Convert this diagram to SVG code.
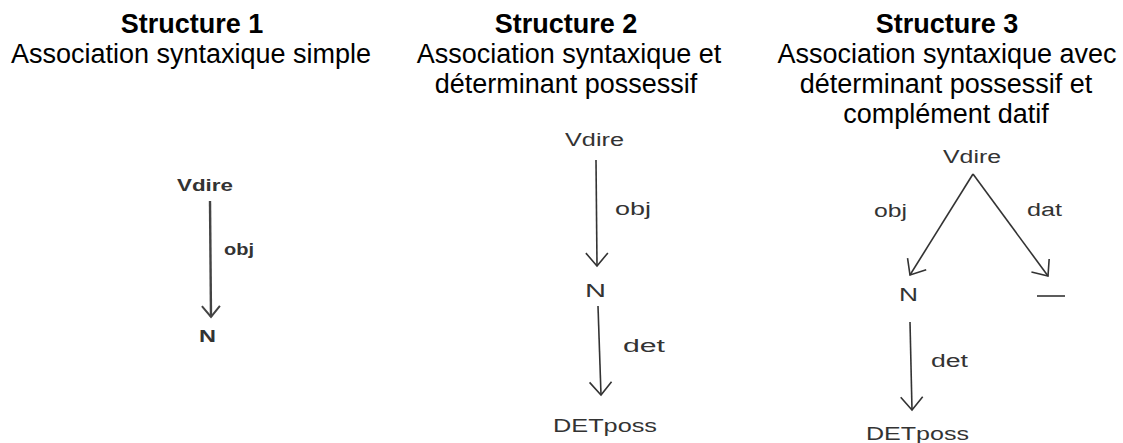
<svg xmlns="http://www.w3.org/2000/svg" width="1123" height="443" viewBox="0 0 1123 443">
  <style>
    .title { font-family: "Liberation Sans", Arial, sans-serif; font-size: 27px; font-weight: bold; fill: #000; text-anchor: middle; }
    .sub { font-family: "Liberation Sans", Arial, sans-serif; font-size: 27px; fill: #000; text-anchor: middle; }
    .lbl { font-family: "Liberation Sans", Arial, sans-serif; font-size: 18px; fill: #333; }
    .lbl1 { font-family: "Liberation Sans", Arial, sans-serif; font-size: 17px; font-weight: bold; fill: #333; }
    .edge { stroke: #333; stroke-width: 1.6; fill: none; }
    .edge1 { stroke: #444; stroke-width: 2.4; fill: none; }
  </style>
  <defs>
    <marker id="arr" viewBox="-16 -14 18 28" markerWidth="18" markerHeight="28" refX="0" refY="0" markerUnits="userSpaceOnUse" orient="auto">
      <path d="M-13,-11 L0,0 L-13,11" stroke="#333" stroke-width="1.6" fill="none"/>
    </marker>
    <marker id="arr1" viewBox="-16 -14 18 28" markerWidth="18" markerHeight="28" refX="0" refY="0" markerUnits="userSpaceOnUse" orient="auto">
      <path d="M-11,-9 L0,0 L-11,9" stroke="#444" stroke-width="2" fill="none"/>
    </marker>
  </defs>

  <g id="titles">
    <text class="title" x="192" y="33">Structure 1</text>
    <text class="sub" x="191" y="63">Association syntaxique simple</text>
    <text class="title" x="566" y="33">Structure 2</text>
    <text class="sub" x="569" y="63">Association syntaxique et</text>
    <text class="sub" x="566" y="93">déterminant possessif</text>
    <text class="title" x="947" y="33">Structure 3</text>
    <text class="sub" x="947" y="63">Association syntaxique avec</text>
    <text class="sub" x="946" y="93">déterminant possessif et</text>
    <text class="sub" x="946" y="123">complément datif</text>
  </g>

  <g id="connectors">
    <line class="edge1" x1="210" y1="201" x2="211" y2="317" marker-end="url(#arr1)"/>
    <line class="edge" x1="596" y1="160" x2="597" y2="266" marker-end="url(#arr)"/>
    <line class="edge" x1="598" y1="306" x2="601" y2="395" marker-end="url(#arr)"/>
    <line class="edge" x1="973" y1="174" x2="910" y2="275" marker-end="url(#arr)"/>
    <line class="edge" x1="973" y1="174" x2="1048" y2="276" marker-end="url(#arr)"/>
    <line class="edge" x1="910" y1="322" x2="912" y2="410" marker-end="url(#arr)"/>
  </g>

  <g id="s1-vdire"><text class="lbl1" x="177" y="191" textLength="56" lengthAdjust="spacingAndGlyphs">Vdire</text></g>
  <g id="s1-obj"><text class="lbl1" x="224" y="255" textLength="30" lengthAdjust="spacingAndGlyphs">obj</text></g>
  <g id="s1-n"><text class="lbl1" x="199" y="342" textLength="17" lengthAdjust="spacingAndGlyphs">N</text></g>

  <g id="s2-vdire"><text class="lbl" x="565" y="146" textLength="59" lengthAdjust="spacingAndGlyphs">Vdire</text></g>
  <g id="s2-obj"><text class="lbl" x="615" y="215" textLength="36" lengthAdjust="spacingAndGlyphs">obj</text></g>
  <g id="s2-n"><text class="lbl" x="585" y="297" textLength="21" lengthAdjust="spacingAndGlyphs">N</text></g>
  <g id="s2-det"><text class="lbl" x="623" y="352" textLength="42" lengthAdjust="spacingAndGlyphs">det</text></g>
  <g id="s2-detposs"><text class="lbl" x="553" y="432" textLength="104" lengthAdjust="spacingAndGlyphs">DETposs</text></g>

  <g id="s3-vdire"><text class="lbl" x="943" y="163" textLength="58" lengthAdjust="spacingAndGlyphs">Vdire</text></g>
  <g id="s3-obj"><text class="lbl" x="874" y="217" textLength="33" lengthAdjust="spacingAndGlyphs">obj</text></g>
  <g id="s3-dat"><text class="lbl" x="1027" y="216" textLength="35" lengthAdjust="spacingAndGlyphs">dat</text></g>
  <g id="s3-n"><text class="lbl" x="899" y="301" textLength="19" lengthAdjust="spacingAndGlyphs">N</text></g>
  <g id="s3-blank"><line x1="1037" y1="296" x2="1065" y2="296" stroke="#333" stroke-width="1.6"/></g>
  <g id="s3-det"><text class="lbl" x="931" y="367" textLength="37" lengthAdjust="spacingAndGlyphs">det</text></g>
  <g id="s3-detposs"><text class="lbl" x="866" y="440" textLength="103" lengthAdjust="spacingAndGlyphs">DETposs</text></g>
</svg>
